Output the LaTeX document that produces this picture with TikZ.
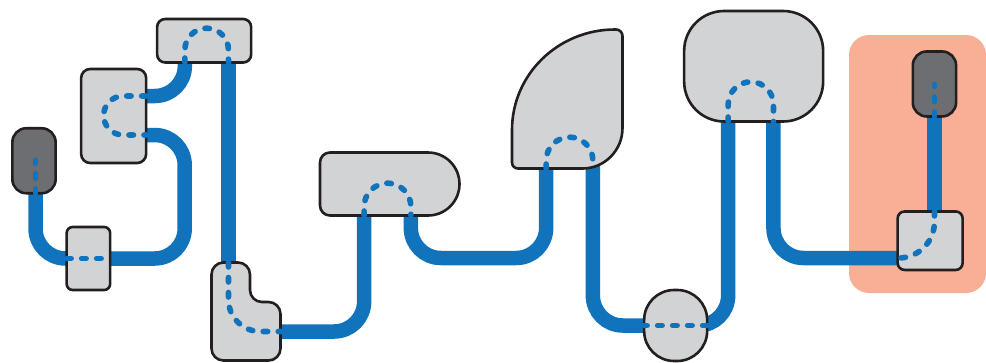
\documentclass[tikz,border=0pt]{standalone}
\usepackage{xcolor}
\usetikzlibrary{positioning, backgrounds}
\definecolor{pipeblue}{HTML}{1173BC}
\definecolor{shellgray}{HTML}{D1D3D4}
\definecolor{darkgray}{HTML}{6D6E71}
\definecolor{edgeblack}{HTML}{231F20}
\definecolor{panelred}{HTML}{F9AE96}

\begin{document}
\begin{tikzpicture}[
    x=1pt, y=1pt,
    shell/.style={draw=edgeblack, fill=shellgray, line width=2.6pt},
    block/.style={shell, inner sep=0pt, outer sep=0pt},
    plug/.style={block, fill=darkgray, minimum width=43.3pt, minimum height=65pt, rounded corners=14pt},
    hull/.style={inner sep=0pt, outer sep=0pt},
    pipe/.style={draw=pipeblue, line width=14.5pt, rounded corners=30pt},
    wire/.style={draw=pipeblue, line width=5.6pt, line cap=round, dash pattern=on 4.5pt off 10.5pt},
]
  \useasboundingbox (0,0) rectangle (986,-362);

  \node[plug] (src) at (34,-160.75) {};
  \node[block, minimum width=43.5pt, minimum height=63pt, rounded corners=6pt, right=11pt of src, yshift=-97.75pt] (mix) {};
  \node[block, minimum width=65pt, minimum height=94pt, rounded corners=9pt, above=64pt of mix, xshift=25.25pt] (valve) {};
  \node[block, minimum width=94pt, minimum height=43.5pt, rounded corners=8pt, right=11pt of valve, yshift=75.25pt] (top) {};
  \node[hull, minimum width=69pt, minimum height=98pt, below=200pt of top, xshift=42pt] (elbow) {};
  \node[hull, minimum width=140pt, minimum height=63pt, right=39.5pt of elbow, yshift=127.5pt] (dome) {};
  \node[hull, minimum width=110.5pt, minimum height=139pt, right=52pt of dome, yshift=85pt] (leaf) {};
  \node[block, minimum width=139pt, minimum height=110.5pt, rounded corners=40pt, right=61.5pt of leaf, yshift=32.75pt] (cap) {};
  \node[block, minimum width=63pt, minimum height=71pt, rounded corners=30pt, below=168.5pt of cap, xshift=-78pt] (drum) {};
  \node[block, minimum width=65pt, minimum height=58.5pt, rounded corners=7pt, right=190.5pt of drum, yshift=84.8pt] (tee) {};
  \node[plug, above=95pt of tee, xshift=4.3pt] (sink) {};

  \draw[shell, rounded corners=12pt] (211.5,-262.5) -- (250,-262.5) -- (250,-302) -- (280.5,-302)
      -- (280.5,-360.5) -- (211.5,-360.5) -- cycle;
  \draw[shell] (330,-152.5) -- (428,-152.5) arc[start angle=90, end angle=-90, radius=31.5pt]
      -- (330,-215.5) arc[start angle=270, end angle=180, radius=10pt]
      -- (320,-162.5) arc[start angle=180, end angle=90, radius=10pt] -- cycle;
  \draw[shell] (512,-130) arc[start angle=180, end angle=90, x radius=103pt, y radius=100.5pt]
      -- (616,-29.5) arc[start angle=90, end angle=0, radius=6.5pt]
      -- (622.5,-128) arc[start angle=0, end angle=-90, x radius=40pt, y radius=40.5pt]
      -- (518,-168.5) arc[start angle=270, end angle=180, radius=6pt] -- cycle;

  \coordinate (bendA) at (184.7,-135);
  \coordinate (bendB) at (480,-258);

  \begin{scope}[on background layer]
    \node[minimum width=137pt, minimum height=258pt, fill=panelred, rounded corners=20pt, inner sep=0pt] (panel) at (917.5,-164) {};
    \draw[pipe] ([xshift=1.5pt]src.south) |- (mix.west);
    \draw[pipe] (mix.east) -| (bendA) -- ([yshift=-19pt]valve.east);
    \draw[pipe] ([yshift=20pt]valve.east) -| ([xshift=-19.3pt]top.south);
    \draw[pipe] ([xshift=24.3pt]top.south) -- ([xshift=-17.7pt]elbow.north);
    \draw[pipe] ([yshift=-20pt]elbow.east) -| ([xshift=-26pt]dome.south);
    \draw[pipe] ([xshift=20.7pt]dome.south) |- (bendB) -| ([xshift=-21.25pt]leaf.south);
    \draw[pipe] ([xshift=25.45pt, yshift=10pt]leaf.south) |- (drum.center);
    \draw[pipe] (drum.center) -| ([xshift=-25.5pt]cap.south);
    \draw[pipe] ([xshift=19.8pt]cap.south) |- ([yshift=-17.3pt]tee.west);
    \draw[pipe] (sink.south) -- (sink.south |- tee.north);
  \end{scope}

  \draw[wire] ([xshift=1.5pt]src.south) -- ++(0,33);
  \draw[wire] (mix.west) -- (mix.east);
  \draw[wire] ([yshift=20pt]valve.east) -- ++(-23,0) arc[start angle=90, end angle=270, radius=19.5pt] -- ([yshift=-19pt]valve.east);
  \draw[wire] ([xshift=-19.3pt]top.south) -- ++(0,12.5) arc[start angle=180, end angle=0, radius=21.8pt] -- ([xshift=24.3pt]top.south);
  \draw[wire, rounded corners=32pt] ([xshift=-17.7pt]elbow.north) |- ([yshift=-20pt]elbow.east);
  \draw[wire] ([xshift=-26pt]dome.south) -- ++(0,9) arc[start angle=180, end angle=0, radius=23.35pt] -- ([xshift=20.7pt]dome.south);
  \draw[wire] ([xshift=-21.25pt]leaf.south) -- ++(0,8) arc[start angle=180, end angle=0, radius=23.35pt] -- ([xshift=25.45pt]leaf.south);
  \draw[wire] ([xshift=-25.5pt]cap.south) -- ++(0,17) arc[start angle=180, end angle=0, radius=22.65pt] -- ([xshift=19.8pt]cap.south);
  \draw[wire] (drum.east) -- (drum.west);
  \draw[wire] (sink.south) -- ++(0,32);
  \draw[wire, rounded corners=36pt] (sink.south |- tee.north) |- ([yshift=-17.3pt]tee.west);
\end{tikzpicture}
\end{document}
